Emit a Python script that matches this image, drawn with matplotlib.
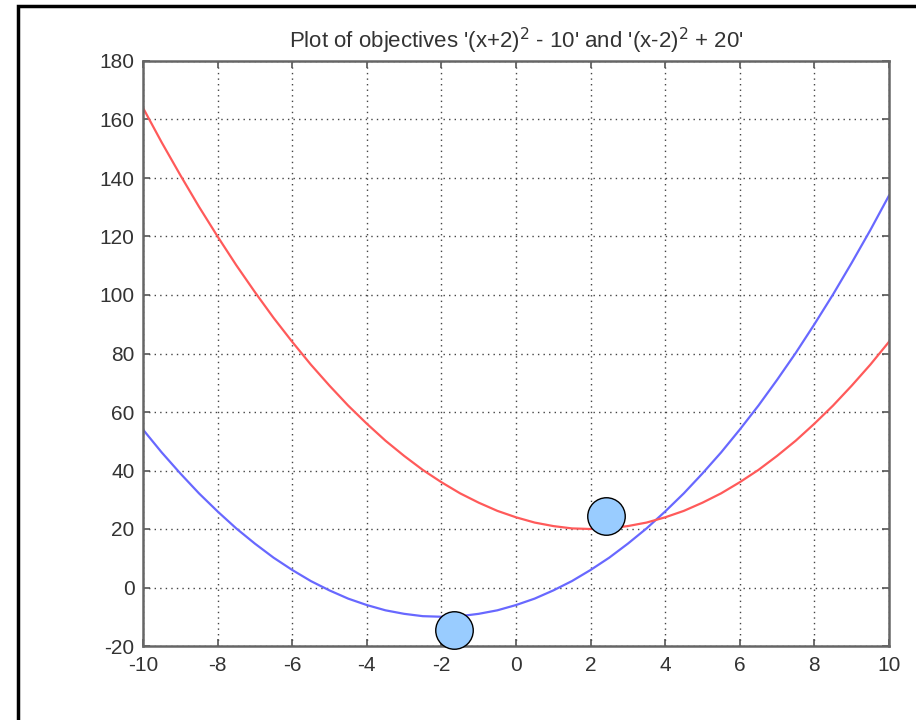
import matplotlib.pyplot as plt
from matplotlib.patches import Rectangle

plt.rcParams['font.family'] = ['Liberation Sans', 'DejaVu Sans']
plt.rcParams['axes.unicode_minus'] = False

# data (half-unit steps)
x_vals = [-10, -9.5, -9, -8.5, -8, -7.5, -7, -6.5, -6, -5.5, -5, -4.5, -4, -3.5, -3, -2.5, -2,
          -1.5, -1, -0.5, 0, 0.5, 1, 1.5, 2, 2.5, 3, 3.5, 4, 4.5, 5, 5.5, 6, 6.5, 7, 7.5, 8,
          8.5, 9, 9.5, 10]
blue_vals = [54, 46.2, 39, 32.2, 26, 20.2, 15, 10.2, 6, 2.2, -1, -3.8, -6, -7.8, -9, -9.8, -10,
             -9.8, -9, -7.8, -6, -3.8, -1, 2.2, 6, 10.2, 15, 20.2, 26, 32.2, 39, 46.2, 54,
             62.2, 71, 80.2, 90, 100.2, 111, 122.2, 134]
red_vals = [164, 152.2, 141, 130.2, 120, 110.2, 101, 92.2, 84, 76.2, 69, 62.2, 56, 50.2, 45,
            40.2, 36, 32.2, 29, 26.2, 24, 22.2, 21, 20.2, 20, 20.2, 21, 22.2, 24, 26.2, 29,
            32.2, 36, 40.2, 45, 50.2, 56, 62.2, 69, 76.2, 84]
dot_x = [-1.65, 2.4]
dot_y = [-14.5, 24.5]

x_ticks = list(range(-10, 11, 2))
y_ticks = list(range(-20, 181, 20))

fig = plt.figure(figsize=(9.16, 7.2), dpi=100)

# outer black frame
fig.patches.append(Rectangle((18 / 916, -0.01), 1.0, 1 - 6 / 720 + 0.01, transform=fig.transFigure,
                             fill=False, edgecolor='black', linewidth=2.5))

ax = fig.add_axes([143 / 916, 1 - 646 / 720, (889 - 143) / 916, (646 - 61) / 720])
ax.plot(x_vals, blue_vals, color='#6868ff', linewidth=1.6)
ax.plot(x_vals, red_vals, color='#ff5a5a', linewidth=1.6)
ax.plot(dot_x, dot_y, 'o', markersize=27, markerfacecolor='#99ccff',
        markeredgecolor='black', markeredgewidth=1.0, clip_on=False, zorder=5)

ax.set_xlim(-10, 10)
ax.set_ylim(-20, 180)
ax.set_xticks(x_ticks)
ax.set_yticks(y_ticks)
ax.grid(True, linestyle=(0, (1, 3)), color='#444444', linewidth=1.0)
ax.tick_params(direction='in', top=True, right=True, length=5, width=1.2,
               color='#555555', labelsize=15, labelcolor='#333333')
ax.tick_params(axis='x', pad=7)
ax.tick_params(axis='y', pad=6)
for s in ax.spines.values():
    s.set_color('#666666')
    s.set_linewidth(1.8)

ax.set_title("Plot of objectives '(x+2)$^2$ - 10' and '(x-2)$^2$ + 20'",
             fontsize=16, color='#333333', pad=9)

plt.savefig('out.png', dpi=100)
plt.close()
